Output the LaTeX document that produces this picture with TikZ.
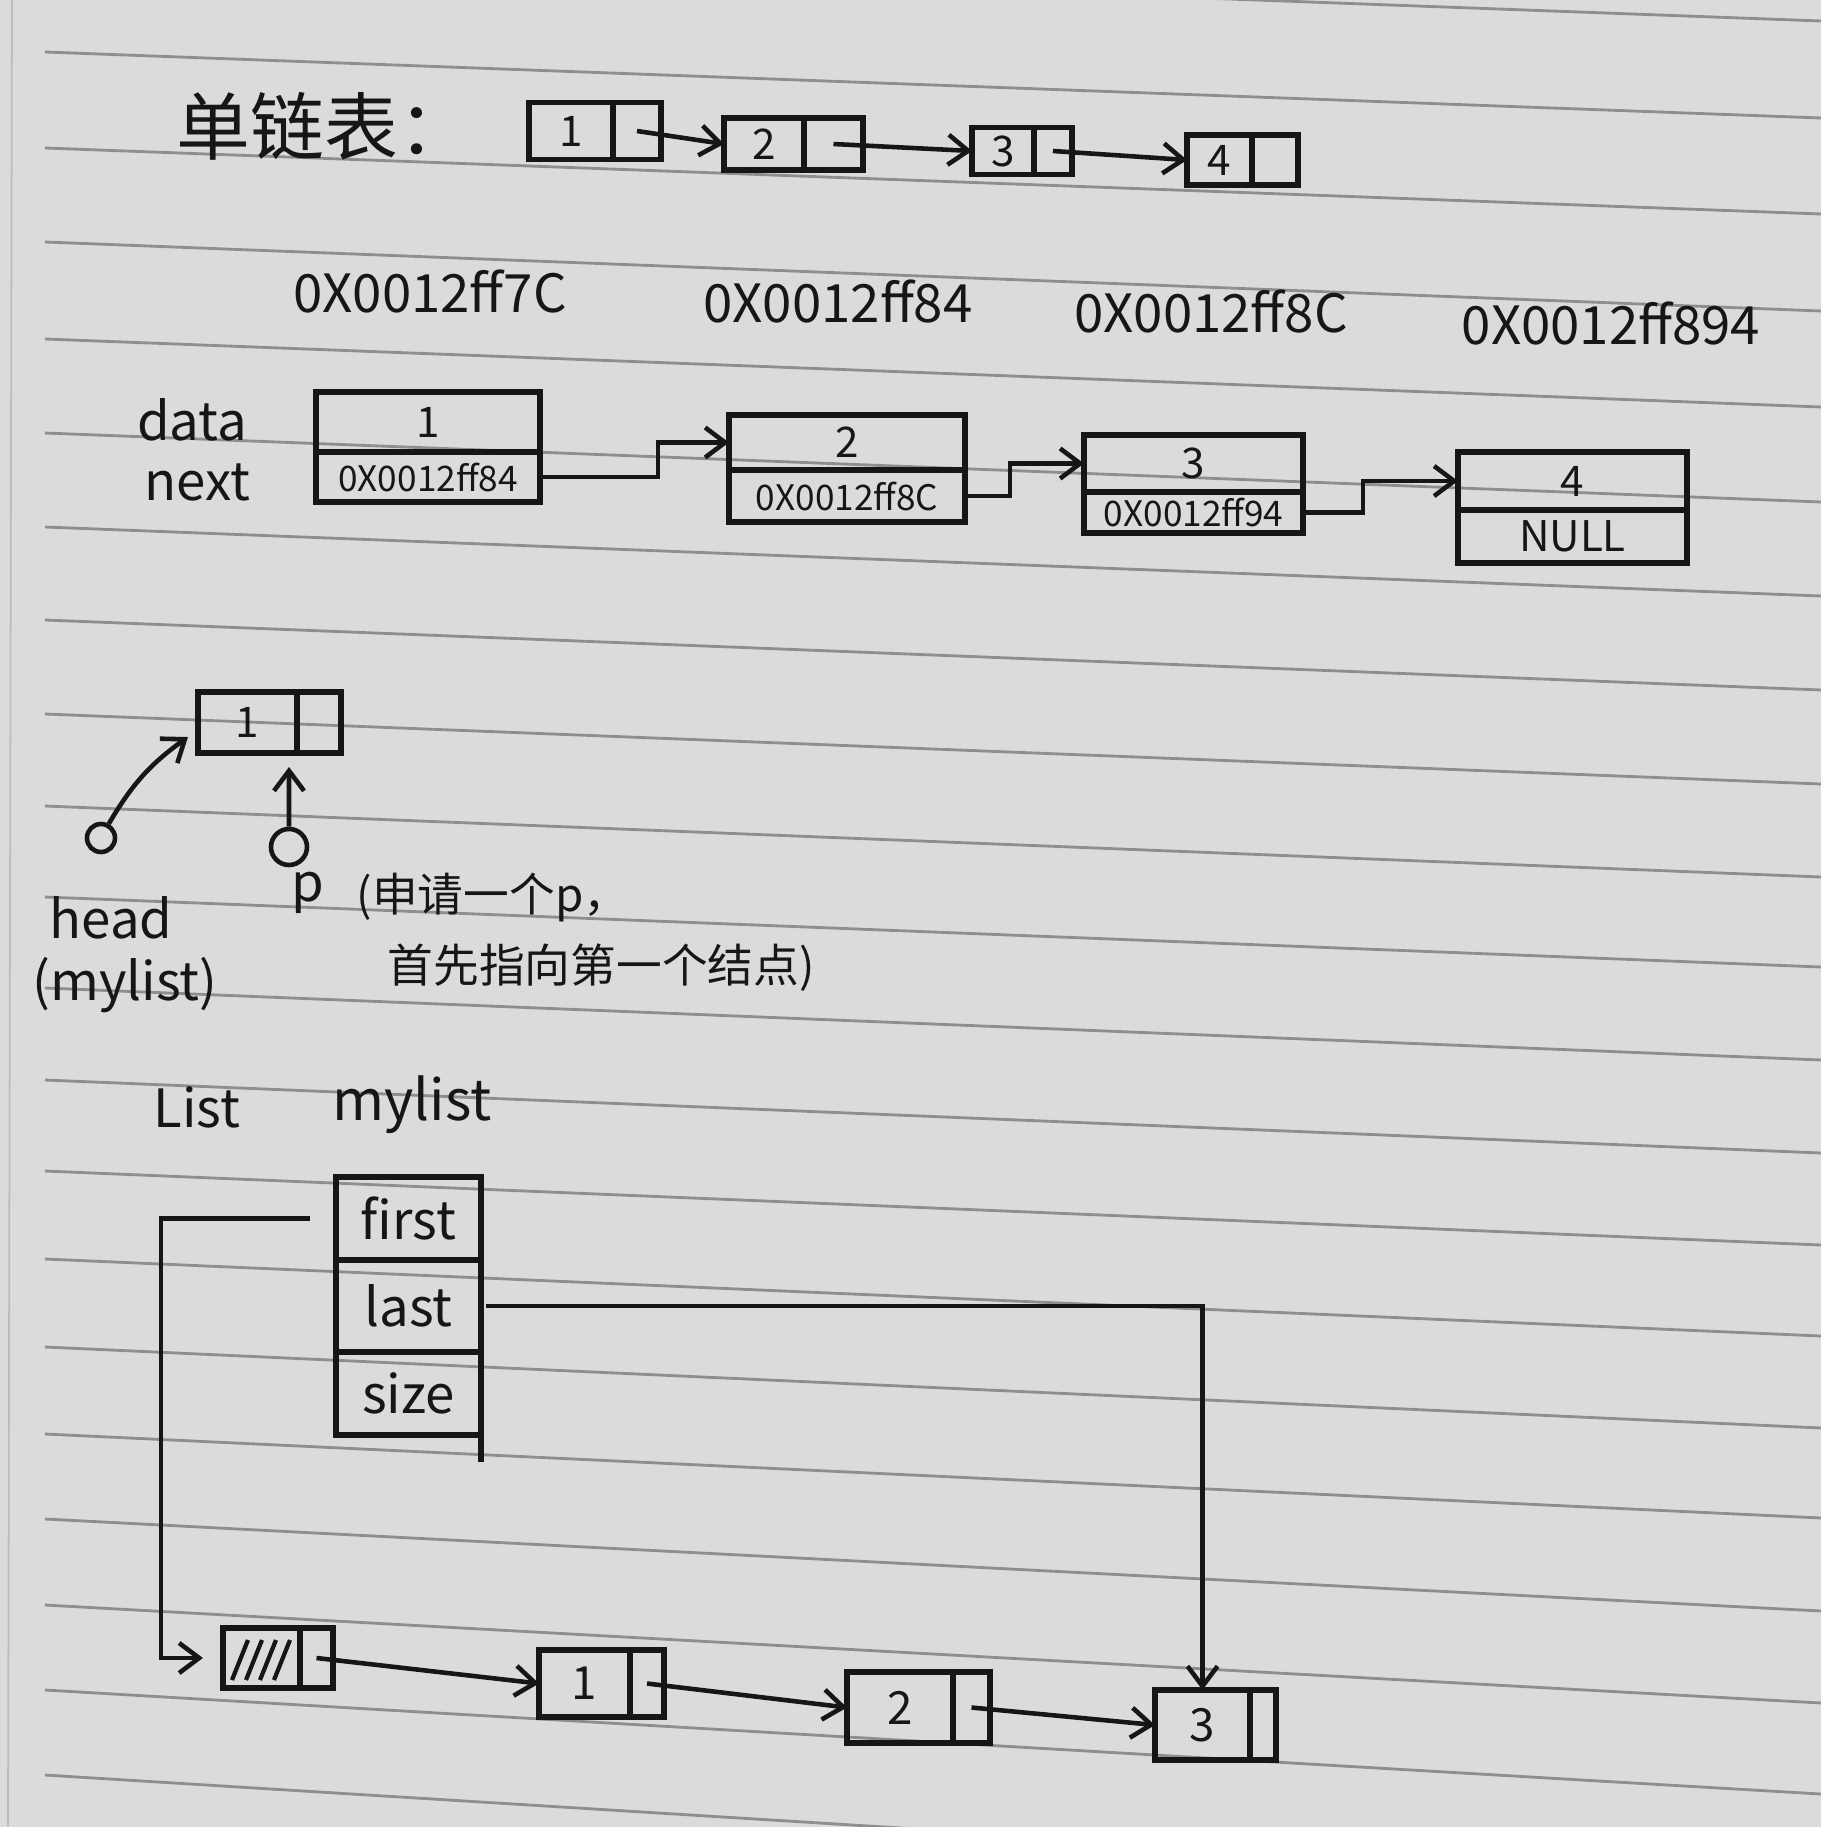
\documentclass[tikz,border=0pt]{standalone}
\usepackage{fontspec}
\setmainfont{Noto Sans CJK SC}
\usetikzlibrary{arrows.meta,calc}
\definecolor{paper}{RGB}{217,220,216}
\definecolor{ink}{RGB}{22,22,22}
\definecolor{rule}{RGB}{140,143,140}
\tikzset{
  cell/.style={draw=ink, line width=1.5pt, inner sep=0pt, outer sep=0pt, text=ink,
               font=\fontsize{12}{14}\selectfont},
  arr/.style={draw=ink, line width=1.3pt, -{Straight Barb[length=2mm,width=3mm]}},
  lbl/.style={text=ink, inner sep=0pt},
  addr/.style={lbl, font=\fontsize{15}{17}\selectfont},
  small/.style={font=\fontsize{10}{12}\selectfont},
  field/.style={cell, font=\fontsize{15}{17}\selectfont, minimum width=1.45cm},
  ptr/.style={draw=ink, line width=1.3pt, circle, inner sep=0pt, minimum size=#1},
}
\begin{document}
\begin{tikzpicture}[x=0.01cm, y=-0.01cm]
\useasboundingbox (0,0) rectangle (1821,1827);
\fill[paper] (0,0) rectangle (1821,1827);

% ruled notebook paper
\begin{scope}
  \clip (0,0) rectangle (1821,1827);
  \draw[rule!40!paper, line width=0.5pt] (12,0) -- (8,1827);
  \foreach \a/\b in {-45/21, 52/118, 148/214, 242/311, 339/407, 433/502, 527/596,
                     620/690, 714/784, 806/877, 897/967, 988/1060, 1080/1153,
                     1171/1245, 1259/1336, 1347/1428, 1434/1518, 1519/1611,
                     1605/1703, 1690/1794, 1775/1885}
    \draw[rule, line width=0.8pt] (45,\a) -- (1821,\b);
\end{scope}

% ---------- compact singly linked list ----------
\node[lbl, font=\fontsize{21}{24}\selectfont, anchor=west] (title) at (176,126) {单链表：};

\node[cell, minimum width=0.84cm, minimum height=0.57cm] (t1d) at (571,131) {1};
\node[cell, minimum width=0.48cm, minimum height=0.57cm] (t1n) at (637,131) {};
\node[cell, minimum width=0.80cm, minimum height=0.52cm] (t2d) at (764,144) {2};
\node[cell, minimum width=0.59cm, minimum height=0.52cm] (t2n) at (833.5,144) {};
\node[cell, minimum width=0.62cm, minimum height=0.47cm] (t3d) at (1003,151) {3};
\node[cell, minimum width=0.38cm, minimum height=0.47cm] (t3n) at (1053,151) {};
\node[cell, minimum width=0.65cm, minimum height=0.50cm] (t4d) at (1219.5,160) {4};
\node[cell, minimum width=0.46cm, minimum height=0.50cm] (t4n) at (1275,160) {};

\draw[arr] (t1n.center) -- (t2d.west);
\draw[arr] (t2n.center) -- (t3d.west);
\draw[arr] (t3n.center) -- (t4d.west);

% ---------- addresses and node layout ----------
\node[addr] (a1) at (430,292) {0X0012ff7C};
\node[addr] (a2) at (838,302) {0X0012ff84};
\node[addr] (a3) at (1211,312) {0X0012ff8C};
\node[addr] (a4) at (1611,324) {0X0012ff894};

\node[addr] (ldata) at (192,420) {data};
\node[addr] (lnext) at (197,482) {next};

\node[cell, minimum width=2.24cm, minimum height=0.60cm] (Ad) at (428,422) {1};
\node[cell, small, minimum width=2.24cm, minimum height=0.50cm] (An) at (428,477) {0X0012ff84};
\node[cell, minimum width=2.36cm, minimum height=0.55cm] (Bd) at (847,442.5) {2};
\node[cell, small, minimum width=2.36cm, minimum height=0.52cm] (Bn) at (847,496) {0X0012ff8C};
\node[cell, minimum width=2.19cm, minimum height=0.57cm] (Cd) at (1193.5,463.5) {3};
\node[cell, small, minimum width=2.19cm, minimum height=0.41cm] (Cn) at (1193.5,512.5) {0X0012ff94};
\node[cell, minimum width=2.29cm, minimum height=0.58cm] (Dd) at (1572.5,481) {4};
\node[cell, minimum width=2.29cm, minimum height=0.53cm] (Dn) at (1572.5,536.5) {NULL};

\draw[arr] (An.east) -- ++(118,0) |- (Bd.west);
\draw[arr] (Bn.east) -- ++(45,0) |- (Cd.west);
\draw[arr] (Cn.east) -- ++(60,0) |- (Dd.west);

% ---------- head and p pointers ----------
\node[cell, minimum width=0.99cm, minimum height=0.61cm] (sd) at (247.5,722.5) {1};
\node[cell, minimum width=0.44cm, minimum height=0.61cm] (sn) at (319,722.5) {};
\node[ptr=0.28cm] (hc) at (101,838) {};
\node[ptr=0.36cm] (pc) at (289,847) {};
\draw[arr] (hc) to[bend left=12] ($(sd.south west)+(-10,-16)$);
\draw[arr] (pc) -- ($(sd.south east)+(-8,14)$);

\node[addr] (lhead) at (111,918) {head};
\node[addr] (lmy) at (125,985) {(mylist)};
\node[addr] (lp) at (308,893) {p};
\node[lbl, anchor=west, font=\fontsize{13}{15}\selectfont] (n1) at (356,897) {(申请一个p，};
\node[lbl, anchor=west, font=\fontsize{13}{15}\selectfont] (n2) at (387,968) {首先指向第一个结点)};

% ---------- List struct ----------
\node[lbl, font=\fontsize{15}{17}\selectfont] (lList) at (197,1107) {List};
\node[lbl, font=\fontsize{16}{18}\selectfont] (lmylist) at (412,1105) {mylist};

\node[field, minimum height=0.83cm] (sf) at (408.5,1218.5) {first};
\node[field, minimum height=0.92cm] (sl) at (408.5,1306) {last};
\node[field, minimum height=0.83cm] (ss) at (408.5,1393.5) {size};
\draw[ink, line width=1.5pt] (ss.south east) -- ++(0,27);

% ---------- list with head node ----------
\node[cell, minimum width=0.77cm, minimum height=0.60cm] (hbd) at (261.5,1658) {};
\node[cell, minimum width=0.33cm, minimum height=0.60cm] (hbn) at (316.5,1658) {};
\foreach \i in {0,...,3}
  \draw[ink, line width=1.2pt] ($(hbd.south west)+(9+14*\i,-8)$) -- ++(16,-40);

\node[cell, font=\fontsize{13}{15}\selectfont, minimum width=0.91cm, minimum height=0.67cm] (b1d) at (584.5,1683.5) {1};
\node[cell, minimum width=0.34cm, minimum height=0.67cm] (b1n) at (647,1683.5) {};
\node[cell, font=\fontsize{13}{15}\selectfont, minimum width=1.06cm, minimum height=0.71cm] (b2d) at (900,1707.5) {2};
\node[cell, minimum width=0.37cm, minimum height=0.71cm] (b2n) at (971.5,1707.5) {};
\node[cell, font=\fontsize{13}{15}\selectfont, minimum width=0.95cm, minimum height=0.70cm] (b3d) at (1202.5,1725) {3};
\node[cell, minimum width=0.26cm, minimum height=0.70cm] (b3n) at (1263,1725) {};

\draw[arr] (hbn.center) -- (b1d.west);
\draw[arr] (b1n.center) -- (b2d.west);
\draw[arr] (b2n.center) -- (b3d.west);

\draw[arr, shorten <=0.26cm, shorten >=0.2cm] (sf.west) -- ++(-175,0) |- (hbd.west);
\draw[arr, shorten <=0.05cm] (sl.east) -| (b3d.north);
\end{tikzpicture}
\end{document}
